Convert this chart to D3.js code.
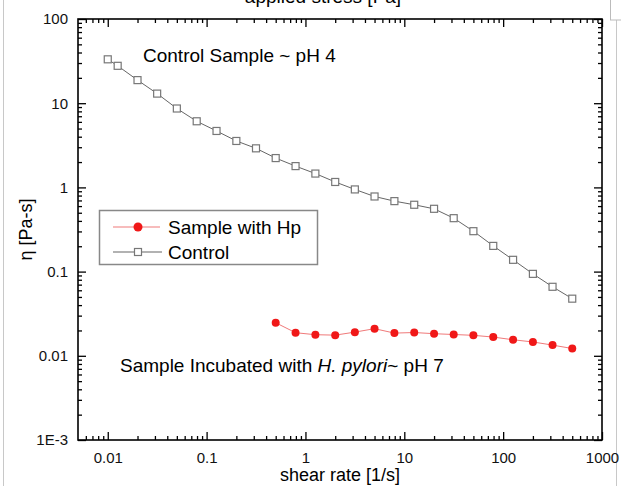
<!DOCTYPE html>
<html>
<head>
<meta charset="utf-8">
<script src="https://cdn.jsdelivr.net/npm/d3@7"></script>
<style>
  body { margin: 0; background: #fff; }
  svg { font-family: "Liberation Sans", Arial, sans-serif; }
</style>
</head>
<body>
<svg id="chart" width="621" height="486"></svg>
<script>
// control sample (~pH 4)
const controlRate = [0.01, 0.0126, 0.02, 0.0316, 0.05, 0.0794, 0.126, 0.2, 0.316, 0.5,
  0.794, 1.26, 2, 3.16, 5, 7.94, 12.6, 20, 31.6, 50, 79.4, 126, 200, 316, 500]
const controlEta = [33.2, 27.8, 18.8, 13.0, 8.65, 6.1, 4.68, 3.56, 2.91, 2.23,
  1.79, 1.46, 1.16, 0.946, 0.78, 0.687, 0.622, 0.557, 0.431, 0.302, 0.202, 0.138, 0.094, 0.066, 0.0477]

// sample incubated with H. pylori (~pH 7)
const hpRate = [0.5, 0.794, 1.26, 2, 3.16, 5, 7.94, 12.6, 20, 31.6, 50, 79.4, 126, 200, 316, 500]
const hpEta = [0.0247, 0.0188, 0.0178, 0.0176, 0.0191, 0.0210, 0.0186, 0.0189, 0.0183,
  0.0179, 0.0175, 0.0167, 0.0155, 0.0146, 0.0134, 0.0122]

const xMajor = [0.01, 0.1, 1, 10, 100, 1000]
const yMajor = [0.001, 0.01, 0.1, 1, 10, 100]

const margins = {left: 78, right: 19, top: 19, bottom: 46}
const width = 621, height = 486
const innerW = width - margins.left - margins.right
const innerH = height - margins.top - margins.bottom

const svg = d3.select("#chart")

// page border bits from the screenshot
svg.append("line").attr("x1", 3.5).attr("x2", 3.5).attr("y1", 0).attr("y2", height)
  .attr("stroke", "#c8c8c8")
svg.append("line").attr("x1", 616.5).attr("x2", 616.5).attr("y1", 20).attr("y2", height)
  .attr("stroke", "#c8c8c8")
svg.append("rect").attr("x", 610.5).attr("y", -1).attr("width", 12).attr("height", 21)
  .attr("fill", "#fff").attr("stroke", "#bbb")

const x = d3.scaleLog().domain([0.005, 1000]).range([0, innerW])
const y = d3.scaleLog().domain([0.001, 100]).range([innerH, 0])

// 2..9 minor ticks of every decade
const minorOf = (lo, hi) => {
  const out = []
  for (let p = lo; p < hi; p++)
    for (let m = 2; m <= 9; m++) out.push(m * Math.pow(10, p))
  return out
}
const xMinor = minorOf(-3, 3).filter(v => v > 0.005 && v < 1000)
const yMinor = minorOf(-3, 2)

const g = svg.append("g")
  .attr("transform", `translate(${margins.left}, ${margins.top})`)

// top title, cut off by the page edge in the original
svg.append("text")
  .attr("x", 323).attr("y", 3)
  .attr("text-anchor", "middle")
  .attr("font-size", 19)
  .text("applied stress [Pa]")

const fmtY = v => (v === 0.001 ? "1E-3" : String(v))

// bottom
g.append("g").attr("transform", `translate(0, ${innerH})`)
  .call(d3.axisBottom(x).tickValues(xMajor).tickSize(-8).tickSizeOuter(0)
    .tickPadding(12).tickFormat(d => String(d)))
  .attr("class", "ax")
g.append("g").attr("transform", `translate(0, ${innerH})`)
  .call(d3.axisBottom(x).tickValues(xMinor).tickSize(-4).tickSizeOuter(0).tickFormat(""))
  .attr("class", "ax")
// top
g.append("g")
  .call(d3.axisTop(x).tickValues(xMajor).tickSize(-8).tickSizeOuter(0).tickFormat(""))
  .attr("class", "ax")
g.append("g")
  .call(d3.axisTop(x).tickValues(xMinor).tickSize(-4).tickSizeOuter(0).tickFormat(""))
  .attr("class", "ax")
// left
g.append("g")
  .call(d3.axisLeft(y).tickValues(yMajor).tickSize(-8).tickSizeOuter(0)
    .tickPadding(10).tickFormat(fmtY))
  .attr("class", "ax")
g.append("g")
  .call(d3.axisLeft(y).tickValues(yMinor).tickSize(-4).tickSizeOuter(0).tickFormat(""))
  .attr("class", "ax")
// right
g.append("g").attr("transform", `translate(${innerW}, 0)`)
  .call(d3.axisRight(y).tickValues(yMajor).tickSize(-8).tickSizeOuter(0).tickFormat(""))
  .attr("class", "ax")
g.append("g").attr("transform", `translate(${innerW}, 0)`)
  .call(d3.axisRight(y).tickValues(yMinor).tickSize(-4).tickSizeOuter(0).tickFormat(""))
  .attr("class", "ax")

g.selectAll(".ax .domain").remove()
g.selectAll(".ax line").attr("stroke", "#000").attr("stroke-width", 1.3)
g.selectAll(".ax text").attr("font-size", 15).attr("fill", "#111")
  .attr("font-family", "'Liberation Sans', Arial, sans-serif")

g.append("rect")
  .attr("width", innerW).attr("height", innerH)
  .attr("fill", "none").attr("stroke", "#000").attr("stroke-width", 1.6)

// axis titles
svg.append("text")
  .attr("x", margins.left + innerW / 2).attr("y", 481)
  .attr("text-anchor", "middle").attr("font-size", 18)
  .text("shear rate [1/s]")
svg.append("text")
  .attr("transform", `translate(32, ${margins.top + innerH / 2}) rotate(-90)`)
  .attr("text-anchor", "middle").attr("font-size", 18)
  .text("η [Pa-s]")

// series
const line = d3.line().x(d => x(d[0])).y(d => y(d[1]))
const controlPts = controlRate.map((r, i) => [r, controlEta[i]])
const hpPts = hpRate.map((r, i) => [r, hpEta[i]])

g.append("path").datum(controlPts).attr("d", line)
  .attr("fill", "none").attr("stroke", "#666").attr("stroke-width", 1)
g.selectAll(".sq").data(controlPts).enter().append("rect")
  .attr("class", "sq")
  .attr("x", d => x(d[0]) - 3.5).attr("y", d => y(d[1]) - 3.5)
  .attr("width", 7).attr("height", 7)
  .attr("fill", "#fff").attr("stroke", "#777").attr("stroke-width", 1.2)

g.append("path").datum(hpPts).attr("d", line)
  .attr("fill", "none").attr("stroke", "#f07a7a").attr("stroke-width", 1)
g.selectAll(".dot").data(hpPts).enter().append("circle")
  .attr("class", "dot")
  .attr("cx", d => x(d[0])).attr("cy", d => y(d[1])).attr("r", 4)
  .attr("fill", "#f01818")

// annotations
svg.append("text").attr("x", 143).attr("y", 62).attr("font-size", 19)
  .text("Control Sample ~ pH 4")
const ann = svg.append("text").attr("x", 120).attr("y", 372).attr("font-size", 19)
ann.append("tspan").text("Sample Incubated with ")
ann.append("tspan").attr("font-style", "italic").text("H. pylori")
ann.append("tspan").text("~ pH 7")

// legend
const lg = svg.append("g")
lg.append("rect").attr("x", 99.5).attr("y", 210.5).attr("width", 218).attr("height", 54)
  .attr("fill", "#fff").attr("stroke", "#888").attr("stroke-width", 1.5)
lg.append("line").attr("x1", 113).attr("x2", 160).attr("y1", 227).attr("y2", 227)
  .attr("stroke", "#f07a7a").attr("stroke-width", 1.2)
lg.append("circle").attr("cx", 138).attr("cy", 227).attr("r", 4.5).attr("fill", "#f01818")
lg.append("text").attr("x", 168).attr("y", 233.5).attr("font-size", 19).text("Sample with Hp")
lg.append("line").attr("x1", 113).attr("x2", 162).attr("y1", 252).attr("y2", 252)
  .attr("stroke", "#666").attr("stroke-width", 1.2)
lg.append("rect").attr("x", 134.5).attr("y", 248.5).attr("width", 7).attr("height", 7)
  .attr("fill", "#fff").attr("stroke", "#777").attr("stroke-width", 1.2)
lg.append("text").attr("x", 168).attr("y", 258.5).attr("font-size", 19).text("Control")
</script>
</body>
</html>
